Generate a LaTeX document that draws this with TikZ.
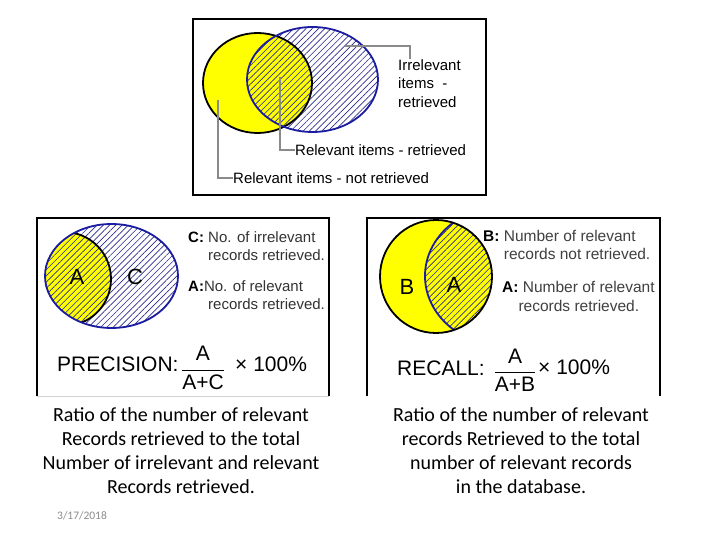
\documentclass[tikz,border=0pt]{standalone}
\usepackage{fontspec}
\setmainfont{Liberation Sans}
\newfontfamily\calibri{Carlito}
\usepackage{tikz}
\usetikzlibrary{patterns.meta}
\definecolor{venyellow}{HTML}{FFFF00}
\definecolor{venblue}{HTML}{1C1CA0}
\definecolor{hatchblue}{HTML}{2A2A8C}
\definecolor{leadgray}{HTML}{8A8A8A}
\definecolor{labelgray}{HTML}{333333}
\definecolor{dategray}{HTML}{8C8C8C}

\begin{document}
\begin{tikzpicture}[
  x=1pt, y=-1pt,
  frame/.style={draw=black, line width=1.6pt},
  yellowfill/.style={fill=venyellow},
  yellowline/.style={draw=black, line width=1.8pt},
  blueline/.style={draw=venblue, line width=1.8pt},
  hatch/.style={pattern={Lines[angle=45, distance=4.4pt, line width=0.65pt]}, pattern color=hatchblue},
  leader/.style={draw=leadgray, line width=1.4pt},
  toplabel/.style={inner sep=0pt, font=\fontsize{15}{18.5}\selectfont, align=left},
  keylabel/.style={inner sep=0pt, text=labelgray, font=\fontsize{15}{18.5}\selectfont, align=left},
  setletter/.style={inner sep=0pt, font=\fontsize{22}{24}\selectfont},
  formula/.style={inner sep=0pt, font=\fontsize{21}{25}\selectfont},
  caption/.style={inner sep=0pt, align=center, font=\calibri\fontsize{20}{24}\selectfont}
]
\fill[white] (0,0) rectangle (720,540);
\useasboundingbox (0,0) rectangle (720,540);

\draw[frame] (193,19) rectangle (486,195);
\coordinate (topyc) at (257.5,83);
\coordinate (topbc) at (312.5,79.5);
\fill[yellowfill] (topyc) ellipse [x radius=54.5pt, y radius=50pt];
\fill[hatch] (topbc) ellipse [x radius=65.5pt, y radius=52.5pt];
\draw[yellowline] (topyc) ellipse [x radius=54.5pt, y radius=50pt];
\draw[blueline] (topbc) ellipse [x radius=65.5pt, y radius=52.5pt];

\node[toplabel, anchor=north west] (irrtxt) at (398,59) {Irrelevant\\items\ \ -\\retrieved};
\node[toplabel, anchor=west] (relrettxt) at (295,150) {Relevant items - retrieved};
\node[toplabel, anchor=west] (relnottxt) at (233,178) {Relevant items - not retrieved};
\coordinate (irrtip) at (345,46);
\coordinate (irrbend) at (410,46);
\coordinate (relrettip) at (280,77);
\coordinate (relnottip) at (218,100);
\draw[leader] (irrtip) -- (irrbend) -- (irrbend |- irrtxt.north);
\draw[leader] (relrettip) |- (relrettxt.west);
\draw[leader] (relnottip) |- (relnottxt.west);

\draw[frame] (37,396) -- (37,218) -- (329,218) -- (329,396);
\draw[gray!35, line width=1pt] (37,396) -- (329,396);
\coordinate (leftbc) at (111.5,276);
\coordinate (leftyc) at (64,279);
\begin{scope}
  \clip (leftbc) ellipse [x radius=66.5pt, y radius=52pt];
  \fill[yellowfill] (leftyc) circle [radius=47pt];
  \fill[hatch] (leftbc) ellipse [x radius=66.5pt, y radius=52pt];
  \draw[yellowline] (leftyc) circle [radius=47pt];
\end{scope}
\draw[blueline] (leftbc) ellipse [x radius=66.5pt, y radius=52pt];
\node[setletter] (lefta) at (77,277) {A};
\node[setletter] (leftc) at (135,277) {C};
\node[keylabel, anchor=north west] (ckey) at (188,231) {\textcolor{black}{\textbf{C:}} No. of irrelevant\\\phantom{\textbf{C:}} records retrieved.};
\node[keylabel, anchor=north west] (akeyl) at (188,280) {\textcolor{black}{\textbf{A:}}No. of relevant\\\phantom{\textbf{A:}} records retrieved.};
\node[formula, anchor=west] (precword) at (57,364) {PRECISION:};
\node[formula] (precfrac) at (203,368) {$\displaystyle\frac{\mbox{A}}{\mbox{A+C}}$};
\node[formula, anchor=west] (prectimes) at (235,364) {× 100\%};

\draw[frame] (367,396) -- (367,218) -- (660,218) -- (660,396);
\coordinate (rightyc) at (436,276.5);
\coordinate (rightbc) at (505,276);
\fill[yellowfill] (rightyc) ellipse [x radius=56pt, y radius=56.5pt];
\begin{scope}
  \clip (rightyc) ellipse [x radius=56pt, y radius=56.5pt];
  \fill[hatch] (rightbc) ellipse [x radius=80pt, y radius=70pt];
  \draw[blueline] (rightbc) ellipse [x radius=80pt, y radius=70pt];
\end{scope}
\draw[yellowline] (rightyc) ellipse [x radius=56pt, y radius=56.5pt];
\node[setletter] (rightb) at (407,287) {B};
\node[setletter] (righta) at (454,285) {A};
\node[keylabel, text=black!75, anchor=north west, font=\fontsize{15.5}{18.5}\selectfont] (bkey) at (483,230) {\textcolor{black}{\textbf{B:}} Number of relevant\\\phantom{\textbf{B:}} records not retrieved.};
\node[keylabel, text=black!75, anchor=north west, font=\fontsize{15.5}{19.5}\selectfont] (akeyr) at (502,281) {\textcolor{black}{\textbf{A:}} Number of relevant\\\phantom{\textbf{A:}}records retrieved.};
\node[formula, anchor=west] (recword) at (397,368) {RECALL:};
\node[formula] (recfrac) at (515,370) {$\displaystyle\frac{\mbox{A}}{\mbox{A+B}}$};
\node[formula, anchor=west] (rectimes) at (538,367) {× 100\%};

\node[caption] (preccap) at (181,451) {Ratio of the number of relevant\\Records retrieved to the total\\Number of irrelevant and relevant\\Records retrieved.};
\node[caption] (reccap) at (521,451) {Ratio of the number of relevant\\records Retrieved to the total\\number of relevant records\\in the database.};
\node[inner sep=0pt, anchor=west, text=dategray, font=\calibri\fontsize{11.5}{14}\selectfont] (date) at (57,516) {3/17/2018};
\end{tikzpicture}
\end{document}
